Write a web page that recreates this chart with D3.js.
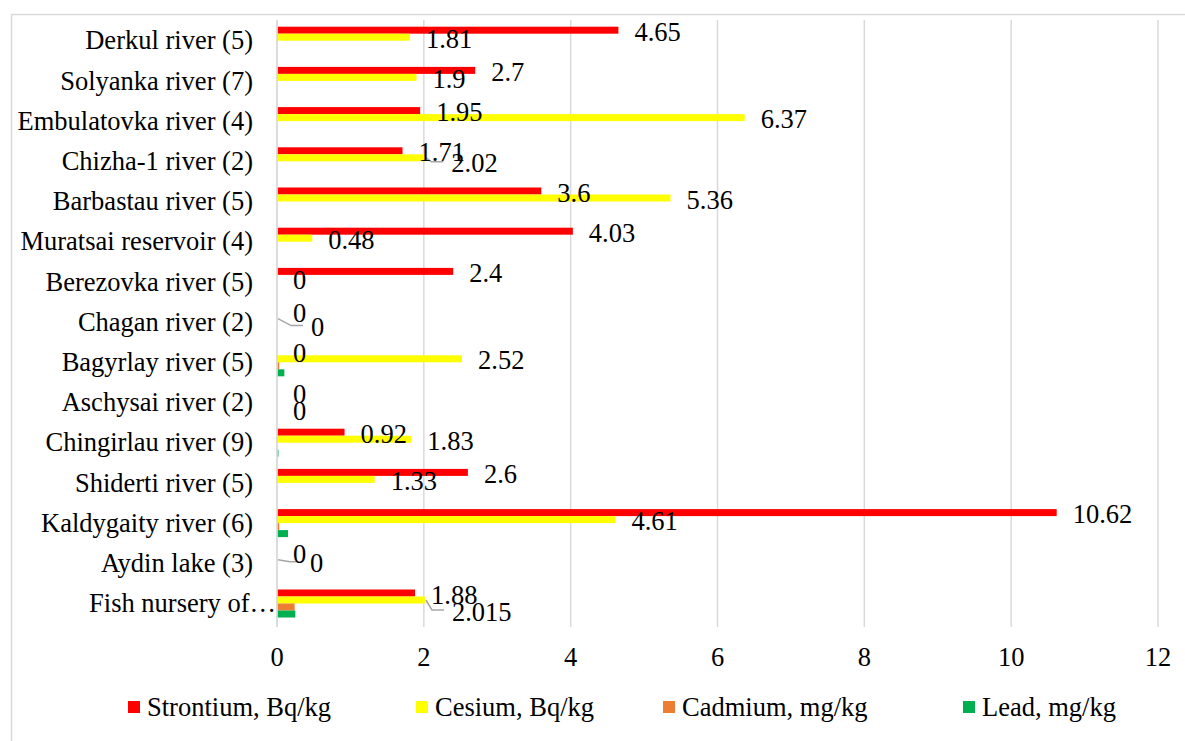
<!DOCTYPE html>
<html>
<head>
<meta charset="utf-8">
<script src="https://cdn.jsdelivr.net/npm/d3@7"></script>
<style>
  html, body { margin: 0; padding: 0; background: #fff; }
  svg { display: block; font-family: "Liberation Serif", "Times New Roman", serif; }
</style>
</head>
<body>
<svg id="chart" width="1185" height="741"></svg>
<script>
// Sampling sites (number of samples in brackets), top to bottom
const categories = [
  "Derkul river (5)",
  "Solyanka river (7)",
  "Embulatovka river (4)",
  "Chizha-1 river (2)",
  "Barbastau river (5)",
  "Muratsai reservoir (4)",
  "Berezovka river (5)",
  "Chagan river (2)",
  "Bagyrlay river (5)",
  "Aschysai river (2)",
  "Chingirlau river (9)",
  "Shiderti river (5)",
  "Kaldygaity river (6)",
  "Aydin lake (3)",
  "Fish nursery of…"
];

const seriesNames = ["Strontium, Bq/kg", "Cesium, Bq/kg", "Cadmium, mg/kg", "Lead, mg/kg"];
const seriesColors = ["#ff0000", "#ffff00", "#ed7d31", "#00b050"];

const strontium = [4.65, 2.7, 1.95, 1.71, 3.6, 4.03, 2.4, 0, 0, 0, 0.92, 2.6, 10.62, 0, 1.88];
const cesium    = [1.81, 1.9, 6.37, 2.02, 5.36, 0.48, 0, 0, 2.52, 0, 1.83, 1.33, 4.61, 0, 2.015];
const cadmium   = [0, 0, 0, 0, 0, 0, 0, 0, 0.03, 0, 0, 0, 0.03, 0, 0.24];
const lead      = [0, 0, 0, 0, 0, 0, 0, 0, 0.1, 0, 0.02, 0, 0.15, 0, 0.25];

const xTicks = [0, 2, 4, 6, 8, 10, 12];

const seriesValues = [strontium, cesium, cadmium, lead];
const labelledSeries = [0, 1]; // only radionuclides carry data labels

// Hand-placed data labels (moved away from crowded spots), with leader lines
const labelMoves = {
  "Chizha-1 river (2)|1": { dx: 10, dy: 4, leader: true },
  "Chagan river (2)|1":   { dx: 18, dy: 7, leader: true },
  "Aschysai river (2)|1": { dx: 0, dy: 10.5, leader: false },
  "Aydin lake (3)|1":     { dx: 17, dy: 2, leader: true },
  "Fish nursery of…|1":   { dx: 11, dy: 10, leader: true }
};

const svg = d3.select("#chart");
const FONT = 26.5;
const gridTop = 20, gridBottom = 627;

// Chart frame
svg.append("rect")
  .attr("x", 11.5).attr("y", 14.5)
  .attr("width", 1185).attr("height", 740)
  .attr("fill", "#fff").attr("stroke", "#d9d9d9").attr("stroke-width", 1.5);

const x = d3.scaleLinear().domain([0, 12]).range([277, 1158]);
const y = d3.scaleBand().domain(categories).range([20.6, 623.6]);
const ySub = d3.scaleBand().domain(d3.range(seriesNames.length)).range([-14, 14]);

// Vertical gridlines
svg.append("g").selectAll("line")
  .data(xTicks.filter(t => t !== 0))
  .join("line")
  .attr("x1", d => x(d)).attr("x2", d => x(d))
  .attr("y1", gridTop).attr("y2", gridBottom)
  .attr("stroke", "#d9d9d9").attr("stroke-width", 1.5);

// Bars
const rows = categories.map((c, i) => ({ c, vals: seriesValues.map(s => s[i]) }));
const groups = svg.append("g").selectAll("g")
  .data(rows)
  .join("g")
  .attr("transform", d => `translate(0,${y(d.c) + y.bandwidth() / 2})`);

groups.selectAll("rect")
  .data(d => d.vals.map((v, k) => ({ v, k })))
  .join("rect")
  .attr("x", x(0))
  .attr("y", d => ySub(d.k))
  .attr("width", d => x(d.v) - x(0))
  .attr("height", ySub.bandwidth())
  .attr("fill", d => seriesColors[d.k]);

// Category axis line at zero
svg.append("line")
  .attr("x1", x(0)).attr("x2", x(0))
  .attr("y1", gridTop).attr("y2", gridBottom)
  .attr("stroke", "#d9d9d9").attr("stroke-width", 1.8);

// Category labels
svg.append("g").selectAll("text")
  .data(categories)
  .join("text")
  .attr("x", d => d.endsWith("…") ? 276 : 253)
  .attr("y", d => y(d) + y.bandwidth() / 2 + 8.7)
  .attr("text-anchor", "end")
  .attr("font-size", FONT)
  .attr("fill", "#000")
  .text(d => d);

// Value axis tick labels
svg.append("g").selectAll("text")
  .data(xTicks)
  .join("text")
  .attr("x", d => x(d))
  .attr("y", 666)
  .attr("text-anchor", "middle")
  .attr("font-size", FONT)
  .attr("fill", "#000")
  .text(d => d);

// Data labels
const labels = [];
categories.forEach((c, i) => {
  labelledSeries.forEach(k => {
    const v = seriesValues[k][i];
    const barC = y(c) + y.bandwidth() / 2 + ySub(k) + ySub.bandwidth() / 2;
    const mv = labelMoves[c + "|" + k] || { dx: 0, dy: 0, leader: false };
    const lx = x(v) + 16 + mv.dx;
    const lc = barC + 1.5 + mv.dy; // visual centre of the digits
    labels.push({ v, k, barC, lx, lc, leader: mv.leader });
  });
});

svg.append("g").selectAll("path")
  .data(labels.filter(d => d.leader))
  .join("path")
  .attr("d", d => d3.line()([
    [x(d.v) + 1, d.barC],
    [d.lx - 20, d.lc - 1.5],
    [d.lx - 8, d.lc - 1.5]
  ]))
  .attr("fill", "none")
  .attr("stroke", "#a6a6a6")
  .attr("stroke-width", 1.5);

svg.append("g").selectAll("text")
  .data(labels)
  .join("text")
  .attr("x", d => d.lx)
  .attr("y", d => d.lc + 9)
  .attr("font-size", FONT)
  .attr("fill", "#000")
  .text(d => String(d.v));

// Legend
const legendX = [128, 416, 663, 963];
const legend = svg.append("g").selectAll("g")
  .data(seriesNames)
  .join("g")
  .attr("transform", (d, i) => `translate(${legendX[i]},0)`);
legend.append("rect")
  .attr("x", 0).attr("y", 701)
  .attr("width", 12).attr("height", 12)
  .attr("fill", (d, i) => seriesColors[i]);
legend.append("text")
  .attr("x", 19).attr("y", 716)
  .attr("font-size", FONT)
  .attr("fill", "#000")
  .text(d => d);
</script>
</body>
</html>
